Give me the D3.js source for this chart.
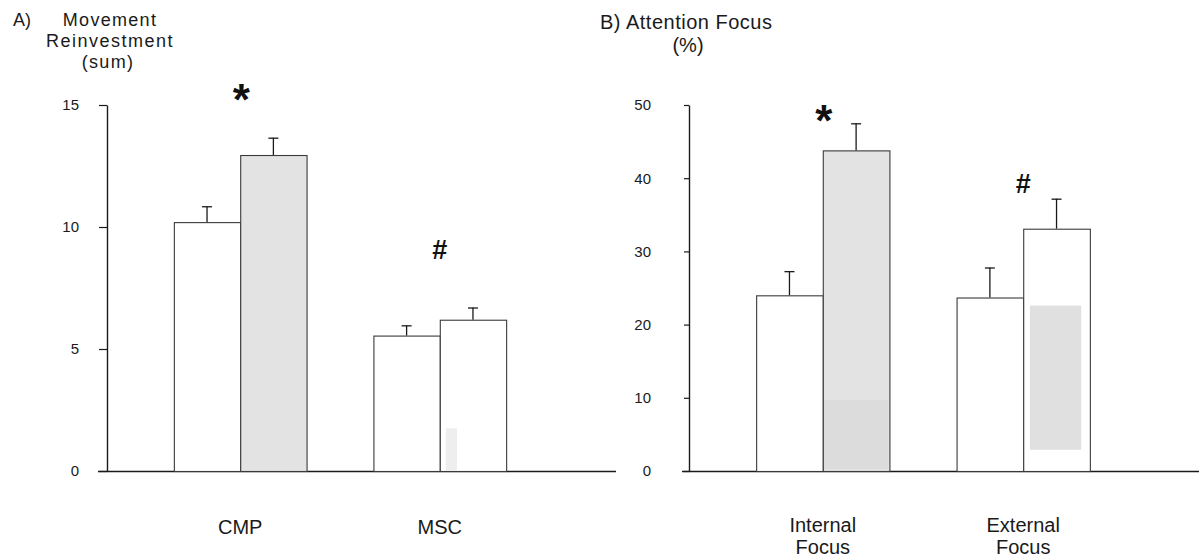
<!DOCTYPE html>
<html><head><meta charset="utf-8">
<script src="https://cdn.jsdelivr.net/npm/d3@7"></script>
<style>
html,body{margin:0;padding:0;background:#fff;}
svg{display:block;font-family:"Liberation Sans",Arial,sans-serif;}
</style></head><body>
<svg id="chart" width="1199" height="560"></svg>
<script>
// ---------- Panel A: Movement Reinvestment (sum) ----------
const categoriesA = ["CMP", "MSC"];
const series1A = [10.2, 5.55];
const series1ErrA = [0.65, 0.42];
const series2A = [12.95, 6.2];
const series2ErrA = [0.71, 0.5];
const ticksA = [0, 5, 10, 15];
const sigSymbolsA = ["*", "#"];
const sigLevelsA = [15.6, 9.1];

// ---------- Panel B: Attention Focus (%) ----------
const categoriesB = [["Internal", "Focus"], ["External", "Focus"]];
const series1B = [24.0, 23.7];
const series1ErrB = [3.3, 4.1];
const series2B = [43.8, 33.1];
const series2ErrB = [3.7, 4.1];
const ticksB = [0, 10, 20, 30, 40, 50];
const sigSymbolsB = ["*", "#"];
const sigLevelsB = [49.2, 39.4];

const svg = d3.select("#chart");
const INK = "#1a1a1a";
const GRAY = "#e3e3e3";

function drawPanel(cfg) {
  const g = svg.append("g");
  const names = cfg.categories.map((c, i) => "c" + i);
  const x = d3.scaleBand().domain(names)
    .range([cfg.axisX, cfg.axisX + cfg.bandRange])
    .paddingInner(0.335).paddingOuter(0.335);
  const sub = d3.scaleBand().domain(["s1", "s2"]).range([0, x.bandwidth()]);
  const y = d3.scaleLinear().domain([0, cfg.max]).range([471, 105]);

  // baseline
  g.append("line")
    .attr("x1", cfg.baseFrom).attr("x2", cfg.baseTo)
    .attr("y1", y(0) + 0.5).attr("y2", y(0) + 0.5)
    .attr("stroke", INK).attr("stroke-width", 1.4);

  const rows = [];
  names.forEach((n, i) => {
    rows.push({cat: n, i, s: "s1", v: cfg.s1[i], e: cfg.e1[i], fill: "#fff"});
    rows.push({cat: n, i, s: "s2", v: cfg.s2[i], e: cfg.e2[i], fill: cfg.s2Fill[i]});
  });

  // error bars
  const eg = g.append("g").attr("stroke", INK).attr("stroke-width", 1.3);
  rows.forEach(r => {
    const cx = x(r.cat) + sub(r.s) + sub.bandwidth() / 2;
    eg.append("line").attr("x1", cx).attr("x2", cx)
      .attr("y1", y(r.v)).attr("y2", y(r.v + r.e));
    eg.append("line").attr("x1", cx - 5).attr("x2", cx + 5)
      .attr("y1", y(r.v + r.e) + 0.5).attr("y2", y(r.v + r.e) + 0.5);
  });

  // bars
  g.append("g").selectAll("rect").data(rows).join("rect")
    .attr("x", r => x(r.cat) + sub(r.s) + 0.5)
    .attr("y", r => y(r.v) + 0.5)
    .attr("width", sub.bandwidth())
    .attr("height", r => y(0) - y(r.v))
    .attr("fill", r => r.fill)
    .attr("stroke", "#3a3a3a").attr("stroke-width", 1.1);

  // scan shading patches (inside bars)
  (cfg.patches || []).forEach(p => {
    const bx = x(names[p.i]) + sub(p.s);
    const bw = sub.bandwidth();
    g.append("rect")
      .attr("x", bx + bw * p.f0).attr("width", bw * (p.f1 - p.f0))
      .attr("y", y(p.to)).attr("height", y(p.from) - y(p.to))
      .attr("fill", p.color);
  });

  // y axis
  const ax = g.append("g").attr("transform", `translate(${cfg.axisX},0)`)
    .call(d3.axisLeft(y).tickValues(cfg.ticks).tickSize(cfg.tickLen)
      .tickSizeOuter(0).tickPadding(cfg.tickPad).tickFormat(d3.format("d")));
  ax.select(".domain").attr("stroke", INK).attr("stroke-width", 1.4);
  ax.selectAll(".tick line").attr("stroke", INK).attr("stroke-width", 1.2);
  ax.selectAll(".tick text").attr("fill", INK)
    .style("font-size", "15px").style("font-family", '"Liberation Sans",Arial,sans-serif');

  // category labels
  names.forEach((n, i) => {
    const lines = Array.isArray(cfg.categories[i]) ? cfg.categories[i] : [cfg.categories[i]];
    const t = g.append("text").attr("x", x(n) + x.bandwidth() / 2)
      .attr("y", cfg.catY).attr("text-anchor", "middle")
      .attr("fill", INK).style("font-size", "20px");
    lines.forEach((l, k) => t.append("tspan").attr("x", x(n) + x.bandwidth() / 2)
      .attr("dy", k === 0 ? 0 : 22).text(l));
  });

  // significance markers
  names.forEach((n, i) => {
    const sym = cfg.sig[i];
    const isStar = sym === "*";
    g.append("text").attr("x", x(n) + x.bandwidth() / 2 + (isStar ? 1 : 0))
      .attr("y", y(cfg.sigLv[i]) + (isStar ? 25 : 10))
      .attr("text-anchor", "middle").attr("fill", "#111")
      .style("font-size", isStar ? "44px" : "27px").style("font-weight", "bold")
      .text(sym);
  });
  return {x, y};
}

drawPanel({
  categories: categoriesA, s1: series1A, e1: series1ErrA, s2: series2A, e2: series2ErrA,
  s2Fill: [GRAY, "#fff"], ticks: ticksA, max: 15, sig: sigSymbolsA, sigLv: sigLevelsA,
  axisX: 107, bandRange: 466, baseFrom: 98, baseTo: 616, tickLen: 8, tickPad: 20, catY: 534,
  patches: [{i: 1, s: "s2", from: 0, to: 1.75, f0: 0.09, f1: 0.26, color: "#eeeeee"}]
});

drawPanel({
  categories: categoriesB, s1: series1B, e1: series1ErrB, s2: series2B, e2: series2ErrB,
  s2Fill: [GRAY, "#fff"], ticks: ticksB, max: 50, sig: sigSymbolsB, sigLv: sigLevelsB,
  axisX: 689, bandRange: 468, baseFrom: 682, baseTo: 1199, tickLen: 5, tickPad: 33, catY: 532,
  patches: [
    {i: 1, s: "s2", from: 2.9, to: 22.6, f0: 0.1, f1: 0.87, color: "#e0e0e0"},
    {i: 0, s: "s2", from: 0.3, to: 9.7, f0: 0.02, f1: 0.98, color: "#dcdcdc"}
  ]
});

// titles
const tA = svg.append("g").attr("fill", INK).style("font-size", "18px");
tA.append("text").attr("x", 13).attr("y", 26).text("A)");
tA.append("text").attr("x", 110).attr("y", 26).attr("text-anchor", "middle").style("letter-spacing", "1.3px").text("Movement");
tA.append("text").attr("x", 110).attr("y", 47).attr("text-anchor", "middle").style("letter-spacing", "1.5px").text("Reinvestment");
tA.append("text").attr("x", 108).attr("y", 68).attr("text-anchor", "middle").style("letter-spacing", "1.3px").text("(sum)");

const tB = svg.append("g").attr("fill", INK).style("font-size", "20px");
tB.append("text").attr("x", 600).attr("y", 29).style("letter-spacing", "0.5px").text("B) Attention Focus");
tB.append("text").attr("x", 688).attr("y", 52).attr("text-anchor", "middle").text("(%)");
</script>
</body></html>
